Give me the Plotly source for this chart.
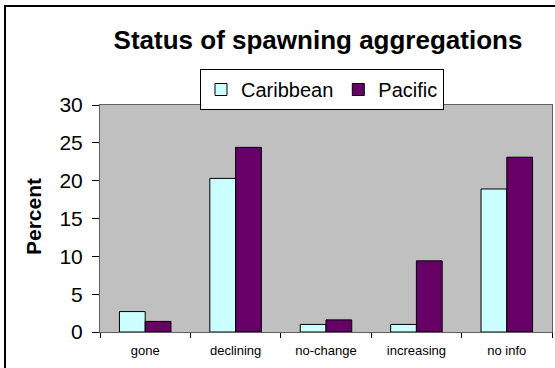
import plotly.graph_objects as go

# Share of spawning aggregations by status (percent)
categories = ["gone", "declining", "no-change", "increasing", "no info"]
caribbean = [2.7, 20.3, 1.0, 1.0, 18.9]
pacific = [1.4, 24.4, 1.6, 9.4, 23.1]
y_ticks = [0, 5, 10, 15, 20, 25, 30]

FONT = "Liberation Sans, Arial, sans-serif"

fig = go.Figure()
fig.add_trace(go.Bar(
    name="Caribbean", x=categories, y=caribbean,
    marker=dict(color="#CCFFFF", line=dict(color="#000000", width=1)),
))
fig.add_trace(go.Bar(
    name="Pacific", x=categories, y=pacific,
    marker=dict(color="#660066", line=dict(color="#000000", width=1)),
))

W, H = 555, 368
L, R, T, B = 100, 3, 105, 36
pw, ph = W - L - R, H - T - B


def px(x):
    return (x - L) / pw


def py(y):
    return (H - B - y) / ph


fig.update_layout(
    width=W, height=H,
    margin=dict(l=L, r=R, t=T, b=B),
    paper_bgcolor="white",
    plot_bgcolor="#C0C0C0",
    barmode="group",
    bargap=0.43,
    bargroupgap=0,
    font=dict(family=FONT, color="black"),
    title=dict(
        text="<b>Status of spawning aggregations</b>",
        font=dict(size=26, family=FONT, color="black"),
        x=318 / W, xanchor="center",
        y=1 - 40 / H, yanchor="middle",
        xref="container", yref="container",
    ),
    legend=dict(
        orientation="h",
        x=px(200), xanchor="left",
        y=py(69), yanchor="top",
        bgcolor="white",
        bordercolor="black", borderwidth=1,
        font=dict(size=20, family=FONT),
        itemwidth=30,
        tracegroupgap=0,
    ),
    xaxis=dict(
        type="category",
        tickson="boundaries",
        ticks="outside", ticklen=5, tickcolor="black",
        tickfont=dict(size=13, family=FONT),
        ticklabelstandoff=6,
        showline=True, linecolor="#606060", linewidth=1, mirror=True,
        showgrid=False,
    ),
    yaxis=dict(
        range=[0, 30],
        tickvals=y_ticks,
        ticks="outside", ticklen=7, tickcolor="black",
        tickfont=dict(size=21, family=FONT),
        ticklabelstandoff=5,
        showline=True, linecolor="#606060", linewidth=1, mirror=True,
        showgrid=False, zeroline=False,
    ),
    showlegend=True,
)

# Outer chart border: an empty framed box starting near the top-left corner
fig.add_annotation(
    text=" ", showarrow=False,
    xref="paper", yref="paper",
    x=px(4), y=py(5), xanchor="left", yanchor="top",
    width=600, height=400, borderpad=0,
    bordercolor="black", borderwidth=2, bgcolor="rgba(0,0,0,0)",
)

fig.add_annotation(
    text="<b>Percent</b>", textangle=-90,
    xref="paper", yref="paper",
    x=px(33), y=py(217), xanchor="center", yanchor="middle",
    showarrow=False, font=dict(size=21, family=FONT, color="black"),
)

fig.write_html("out.html")
